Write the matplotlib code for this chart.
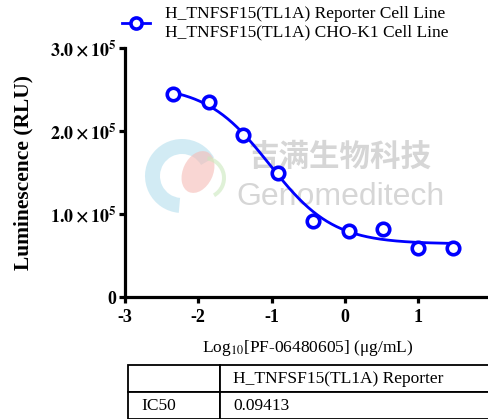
import numpy as np
import matplotlib
matplotlib.use("Agg")
import matplotlib.pyplot as plt
from matplotlib.lines import Line2D
from matplotlib.patches import Wedge, Ellipse

plt.rcParams["font.family"] = ["Liberation Serif", "DejaVu Serif"]
plt.rcParams["mathtext.fontset"] = "stix"

# data
log_conc = [-2.34, -1.86, -1.39, -0.91, -0.43, 0.05, 0.52, 1.00, 1.48]
rlu = [2.45e5, 2.35e5, 1.95e5, 1.49e5, 0.91e5, 0.79e5, 0.82e5, 0.595e5, 0.595e5]
# 4PL fit parameters (top, bottom, IC50 from table, hill slope)
fit_top, fit_bottom, fit_hill = 2.55e5, 0.64e5, 1.0
ic50 = 0.09413
legend_label = "H_TNFSF15(TL1A) Reporter Cell Line\nH_TNFSF15(TL1A) CHO-K1 Cell Line"
yticks = [0, 1e5, 2e5, 3e5]
ytick_labels = ["0", r"$\mathbf{1.0\times10^{5}}$", r"$\mathbf{2.0\times10^{5}}$", r"$\mathbf{3.0\times10^{5}}$"]
xticks = [-3, -2, -1, 0, 1, 2]
table_header = ["", "H_TNFSF15(TL1A) Reporter"]
table_row = ["IC50", "0.09413"]

W, H = 488, 419
fig = plt.figure(figsize=(W / 100, H / 100), dpi=100)

def fx(px): return px / W
def fy(py): return 1 - py / H

# watermark
wm = fig.add_axes([0, 0, 1, 1], zorder=0); wm.set_xlim(0, W); wm.set_ylim(H, 0); wm.axis("off")
wm.add_patch(Wedge((182, 176), 37, 95, 330, width=15, color="#b5dfee", alpha=0.6, lw=0))
wm.add_patch(Ellipse((198, 172), 30, 44, angle=25, color="#f6bcb6", alpha=0.6, lw=0))
wm.add_patch(Wedge((204, 178), 22, -80, 60, width=4, color="#cbe8bd", alpha=0.6, lw=0))
wm.text(340, 157, "吉满生物科技", fontsize=22, color="#d6d6d6", ha="center", va="center",
        family=["Noto Sans CJK SC", "DejaVu Sans"], fontweight="bold")
wm.text(340, 197, "Genomeditech", fontsize=23, color="#d6d6d6", ha="center", va="center",
        family=["Liberation Sans", "DejaVu Sans"])

ax = fig.add_axes([fx(125), fy(297), (491.5 - 125) / W, (297 - 48) / H], zorder=2)
ax.patch.set_alpha(0)
xs = np.linspace(log_conc[0], log_conc[-1], 300)
curve = fit_bottom + (fit_top - fit_bottom) / (1 + 10 ** ((xs - np.log10(ic50)) * fit_hill))
ax.plot(xs, curve, color="#0000ff", lw=2)
ax.plot(log_conc, rlu, "o", mfc="white", mec="#0000ff", mew=2.6, ms=9)

ax.set_xlim(-3, 2); ax.set_ylim(0, 3e5)
ax.set_xticks(xticks); ax.set_xticklabels([str(t) for t in xticks])
ax.set_yticks(yticks); ax.set_yticklabels(ytick_labels)
for s in ["top", "right"]:
    ax.spines[s].set_visible(False)
for s in ["left", "bottom"]:
    ax.spines[s].set_linewidth(2.3)
ax.tick_params(width=2.3, length=4, labelsize=13)
ax.tick_params(axis="x", pad=5)
ax.tick_params(axis="y", pad=2)
for lab in ax.get_xticklabels() + ax.get_yticklabels():
    lab.set_fontweight("bold")
ax.set_ylabel("Luminescence (RLU)", fontsize=15.5, fontweight="bold", labelpad=12)
ax.set_xlabel(r"Log$_{10}$[PF-06480605] (μg/mL)", fontsize=12.5, labelpad=8)

h = Line2D([], [], color="#0000ff", lw=2, marker="o", mfc="white", mec="#0000ff", mew=2.6, ms=8)
fig.legend([h], [legend_label], loc="center left", bbox_to_anchor=(fx(122), fy(23)),
           frameon=False, fontsize=12.5, borderpad=0, borderaxespad=0, handlelength=1.6,
           handletextpad=0.9, labelspacing=0)

# IC50 table
tax = fig.add_axes([fx(128), fy(419), (600 - 128) / W, (419 - 365) / H], zorder=2)
tax.axis("off")
tb = tax.table(cellText=[table_header, table_row], cellLoc="left", bbox=[0, 0, 1, 1],
               colWidths=[92, 380])
tb.auto_set_font_size(False)
for (r, c), cell in tb.get_celld().items():
    cell.set_linewidth(1.3)
    cell.set_fontsize(12.5)
    cell.PAD = 0.035 if c == 1 else 0.15

fig.savefig("out.png", dpi=100)
